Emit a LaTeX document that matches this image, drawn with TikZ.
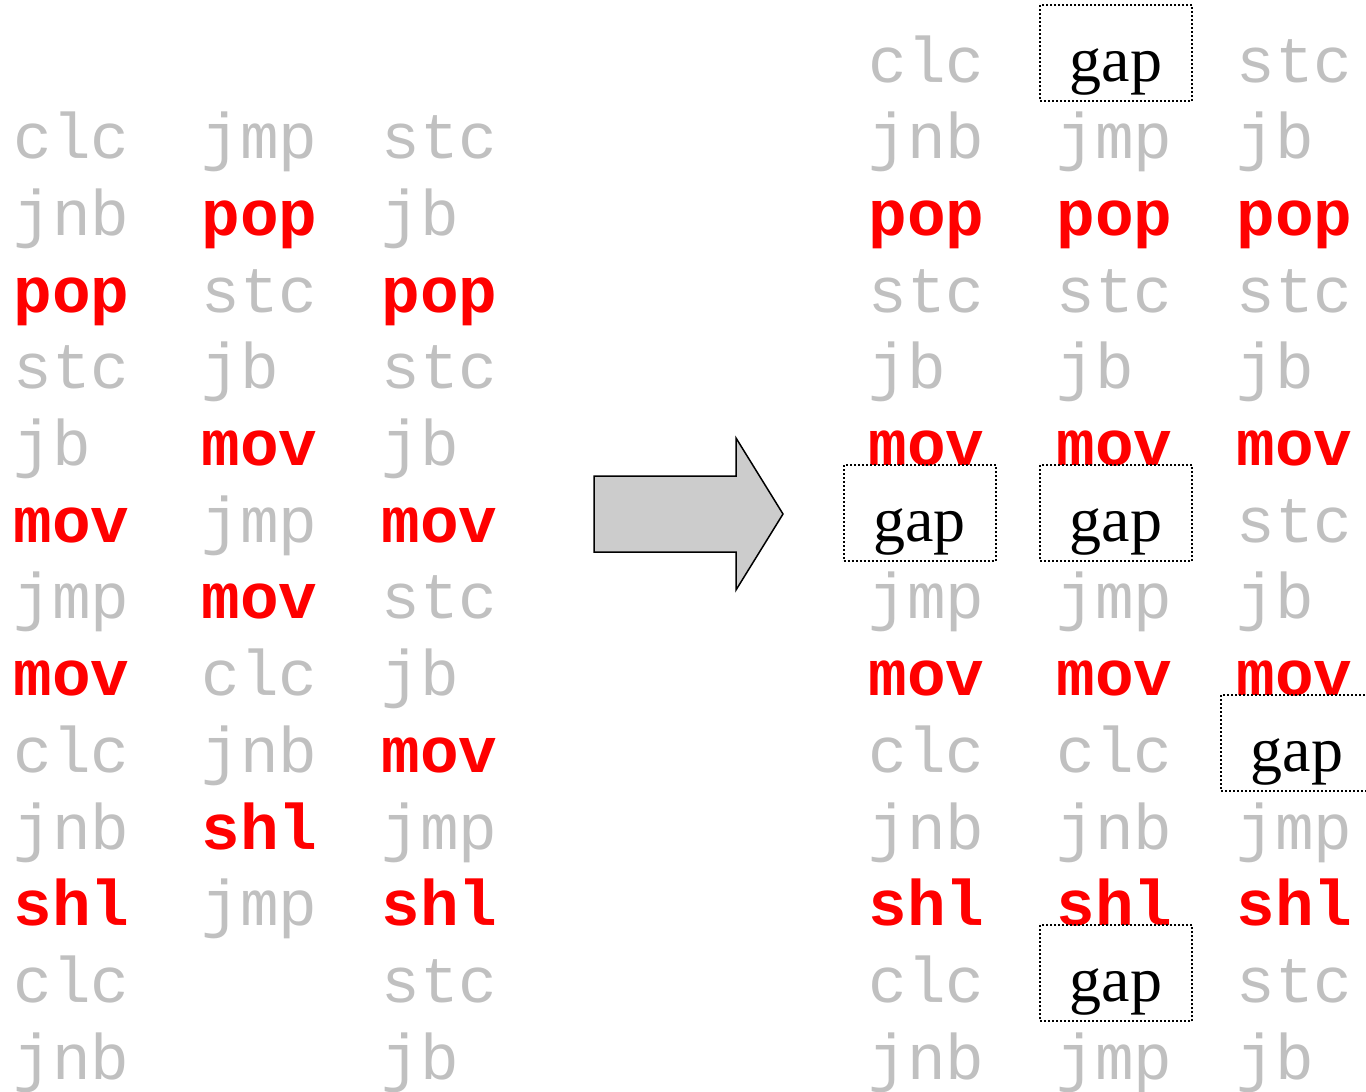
\documentclass[tikz,border=0pt]{standalone}
\usepackage{fontspec}
\setmainfont{Liberation Serif}
\newfontfamily\monof{Liberation Mono}
\definecolor{lg}{RGB}{192,192,192}
\definecolor{arrowgray}{RGB}{204,204,204}
\newcommand\mkcol[5]{%
  \def\gapdx{#4}%
  \foreach \t/\w [count=\i from 0] in {#5}{%
    \node[\t] (#1-\i) at (#2,{#3+76.7*\i}) {\w};}}
\begin{document}
\begin{tikzpicture}[x=0.5pt,y=-0.5pt,
  cg/.style={anchor=base west, inner sep=0pt, font=\monof\fontsize{32.2}{36}\selectfont, text=lg},
  cr/.style={anchor=base west, inner sep=0pt, font=\monof\bfseries\fontsize{32.2}{36}\selectfont, text=red},
  cx/.style={draw, dash pattern=on 1pt off 1pt, line width=1pt, minimum width=76pt, minimum height=48pt,
    text height=38pt, text depth=10pt,
    inner sep=0pt, anchor=center, xshift=\gapdx, yshift=14.5pt, font=\fontsize{32}{36}\selectfont, text=black}]
\useasboundingbox (0,0) rectangle (1366,1092);
% left side
\mkcol{La}{13}{158.7}{0pt}{cg/clc,cg/jnb,cr/pop,cg/stc,cg/jb,cr/mov,cg/jmp,cr/mov,cg/clc,cg/jnb,cr/shl,cg/clc,cg/jnb}
\mkcol{Lb}{201}{158.7}{0pt}{cg/jmp,cr/pop,cg/stc,cg/jb,cr/mov,cg/jmp,cr/mov,cg/clc,cg/jnb,cr/shl,cg/jmp}
\mkcol{Lc}{381}{158.7}{0pt}{cg/stc,cg/jb,cr/pop,cg/stc,cg/jb,cr/mov,cg/stc,cg/jb,cr/mov,cg/jmp,cr/shl,cg/stc,cg/jb}
% arrow
\draw[fill=arrowgray, line width=0.75pt, line join=miter]
  (594,476) -- (736,476) -- (736,438) -- (783,514) -- (736,590) -- (736,552) -- (594,552) -- cycle;
% right side
\mkcol{Ra}{868}{82}{25.75pt}{cg/clc,cg/jnb,cr/pop,cg/stc,cg/jb,cr/mov,cx/gap,cg/jmp,cr/mov,cg/clc,cg/jnb,cr/shl,cg/clc,cg/jnb}
\mkcol{Rb}{1056}{82}{30pt}{cx/gap,cg/jmp,cr/pop,cg/stc,cg/jb,cr/mov,cx/gap,cg/jmp,cr/mov,cg/clc,cg/jnb,cr/shl,cx/gap,cg/jmp}
\mkcol{Rc}{1236}{82}{30.5pt}{cg/stc,cg/jb,cr/pop,cg/stc,cg/jb,cr/mov,cg/stc,cg/jb,cr/mov,cx/gap,cg/jmp,cr/shl,cg/stc,cg/jb}
\end{tikzpicture}
\end{document}
